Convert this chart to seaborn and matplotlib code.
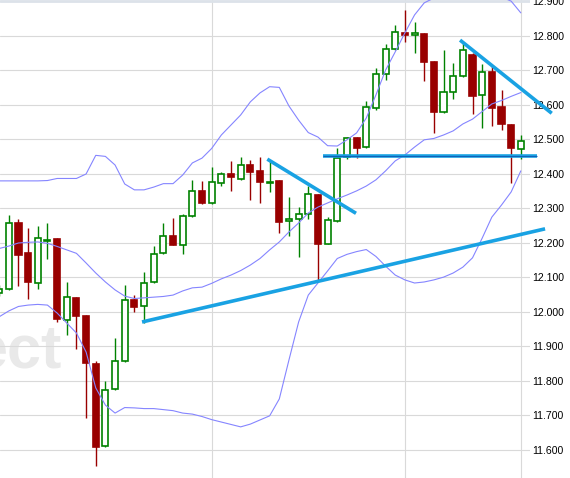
import numpy as np
import pandas as pd
import matplotlib
matplotlib.use("Agg")
import matplotlib.pyplot as plt
import seaborn as sns
from matplotlib.ticker import FormatStrFormatter

# ---------------- data ----------------
day = list(range(-1, 54))
open_ = [12.055, 12.067, 12.258, 12.171, 12.084, 12.207, 12.212, 11.977, 12.041, 11.988,
         11.849, 11.612, 11.777, 11.858, 12.035, 12.017, 12.087, 12.171, 12.220, 12.194,
         12.278, 12.351, 12.316, 12.374, 12.400, 12.385, 12.426, 12.409, 12.375, 12.380,
         12.264, 12.270, 12.284, 12.339, 12.197, 12.265, 12.449, 12.504, 12.478, 12.591,
         12.690, 12.762, 12.809, 12.804, 12.806, 12.725, 12.580, 12.638, 12.684, 12.745,
         12.629, 12.696, 12.594, 12.542, 12.472]
high = [12.078, 12.281, 12.270, 12.243, 12.249, 12.258, 12.214, 12.087, 12.043, 11.991,
        11.858, 11.800, 11.925, 12.078, 12.049, 12.116, 12.191, 12.258, 12.272, 12.284,
        12.383, 12.380, 12.420, 12.406, 12.438, 12.449, 12.441, 12.449, 12.438, 12.383,
        12.333, 12.304, 12.365, 12.342, 12.275, 12.475, 12.507, 12.507, 12.612, 12.707,
        12.777, 12.832, 12.875, 12.841, 12.809, 12.728, 12.759, 12.722, 12.780, 12.751,
        12.719, 12.713, 12.643, 12.545, 12.513]
low = [12.046, 12.064, 12.075, 12.038, 12.067, 12.154, 11.971, 11.933, 11.893, 11.693,
       11.554, 11.609, 11.774, 11.855, 12.000, 11.968, 12.084, 12.168, 12.193, 12.168,
       12.275, 12.314, 12.314, 12.365, 12.351, 12.383, 12.325, 12.316, 12.348, 12.229,
       12.220, 12.159, 12.270, 12.090, 12.196, 12.261, 12.443, 12.446, 12.475, 12.585,
       12.672, 12.759, 12.783, 12.751, 12.670, 12.519, 12.577, 12.617, 12.681, 12.574,
       12.533, 12.539, 12.527, 12.374, 12.443]
close = [12.067, 12.258, 12.165, 12.087, 12.214, 12.210, 11.980, 12.043, 11.988, 11.852,
         11.609, 11.774, 11.858, 12.035, 12.014, 12.084, 12.168, 12.220, 12.194, 12.278,
         12.351, 12.316, 12.377, 12.400, 12.391, 12.426, 12.406, 12.377, 12.378, 12.261,
         12.270, 12.284, 12.342, 12.197, 12.267, 12.447, 12.504, 12.475, 12.594, 12.690,
         12.762, 12.812, 12.804, 12.809, 12.725, 12.580, 12.638, 12.684, 12.759, 12.626,
         12.696, 12.591, 12.545, 12.475, 12.496]

bb_upper = [12.380, 12.380, 12.380, 12.380, 12.380, 12.381, 12.387, 12.387, 12.387, 12.400,
            12.454, 12.451, 12.426, 12.371, 12.354, 12.354, 12.362, 12.372, 12.372, 12.397,
            12.432, 12.446, 12.474, 12.513, 12.542, 12.571, 12.609, 12.635, 12.653, 12.651,
            12.597, 12.556, 12.520, 12.507, 12.482, 12.481, 12.499, 12.519, 12.562, 12.629,
            12.701, 12.754, 12.809, 12.861, 12.896, 12.910, 12.922, 12.927, 12.930, 12.930,
            12.927, 12.922, 12.913, 12.901, 12.867]
bb_mid = [12.184, 12.191, 12.200, 12.202, 12.203, 12.199, 12.190, 12.180, 12.170, 12.142,
          12.113, 12.087, 12.064, 12.046, 12.039, 12.041, 12.043, 12.045, 12.049, 12.061,
          12.070, 12.072, 12.083, 12.096, 12.107, 12.120, 12.136, 12.155, 12.180, 12.203,
          12.232, 12.258, 12.287, 12.304, 12.316, 12.328, 12.339, 12.351, 12.365, 12.383,
          12.409, 12.438, 12.455, 12.478, 12.499, 12.503, 12.513, 12.525, 12.545, 12.559,
          12.581, 12.603, 12.613, 12.625, 12.636]
bb_lower = [11.986, 12.003, 12.016, 12.020, 12.022, 12.020, 11.997, 11.968, 11.939, 11.884,
            11.780, 11.730, 11.707, 11.723, 11.722, 11.720, 11.720, 11.717, 11.714, 11.707,
            11.704, 11.697, 11.688, 11.681, 11.674, 11.667, 11.675, 11.687, 11.699, 11.748,
            11.861, 11.971, 12.049, 12.084, 12.119, 12.155, 12.167, 12.175, 12.181, 12.161,
            12.133, 12.107, 12.093, 12.084, 12.087, 12.093, 12.101, 12.113, 12.130, 12.157,
            12.214, 12.275, 12.310, 12.348, 12.409]

price_ticks = [11.6, 11.7, 11.8, 11.9, 12.0, 12.1, 12.2, 12.3, 12.4, 12.5, 12.6, 12.7, 12.8, 12.9]
month_marks = [21, 41, 53]

# hand-drawn trend lines (day index, price)
support_day = [13.79, 55.51]
support_price = [11.971, 12.241]
flag_day = [26.76, 35.94]
flag_price = [12.443, 12.286]
neck_day = [32.56, 54.68]
neck_price = [12.451, 12.451]
resist_day = [46.71, 56.2]
resist_price = [12.788, 12.576]

# ---------------- style ----------------
sns.set_style("white")
plt.rcParams['font.family'] = ['Liberation Sans', 'DejaVu Sans']

W, H = 570, 478
fig = plt.figure(figsize=(W / 100, H / 100), dpi=100)
ax = fig.add_axes([0, 0, 530 / W, 1])

df = pd.DataFrame({"day": day, "open": open_, "high": high, "low": low, "close": close,
                   "upper": bb_upper, "mid": bb_mid, "lower": bb_lower})

GREEN = "#008200"
RED = "#990000"
BAND = "#8585ff"
TREND = "#19a2e3"

up = df["close"] >= df["open"]
body_lo = np.minimum(df["open"], df["close"])
body_h = np.maximum(np.abs(df["close"] - df["open"]), 0.0006)

# wicks
ax.vlines(df["day"], df["low"], df["high"],
          colors=np.where(up, GREEN, RED), linewidth=1.0, zorder=2)
# bodies
ax.bar(df["day"][up], body_h[up], bottom=body_lo[up], width=0.63,
       facecolor="white", edgecolor=GREEN, linewidth=1.2, zorder=3)
ax.bar(df["day"][~up], body_h[~up], bottom=body_lo[~up], width=0.63,
       facecolor=RED, edgecolor=RED, linewidth=1.2, zorder=3)

# Bollinger bands
for col in ["upper", "mid", "lower"]:
    sns.lineplot(data=df, x="day", y=col, color=BAND, linewidth=0.8, ax=ax,
                 zorder=4, legend=False)

# trend lines
ax.plot(support_day, support_price, color=TREND, lw=2.6, solid_capstyle="butt",
        clip_on=False, zorder=6)
ax.plot(flag_day, flag_price, color=TREND, lw=2.6, solid_capstyle="butt",
        clip_on=False, zorder=6)
ax.plot(neck_day, neck_price, color=TREND, lw=2.6, solid_capstyle="butt",
        clip_on=False, zorder=6)
ax.plot(neck_day, neck_price, color="#1060b8", lw=0.8, solid_capstyle="butt",
        clip_on=False, zorder=6.5)
ax.plot(resist_day, resist_price, color=TREND, lw=2.6, solid_capstyle="butt",
        clip_on=False, zorder=6)

# axes setup
ax.set_xlim(-0.911, 53.95)
ax.set_ylim(11.5188, 12.9043)
ax.set_xlabel("")
ax.set_ylabel("")
ax.set_yticks(price_ticks)
ax.set_xticks(month_marks)
ax.set_xticklabels([])
ax.yaxis.tick_right()
ax.yaxis.set_major_formatter(FormatStrFormatter("%.3f"))
ax.tick_params(axis="y", length=0, pad=1.5, labelsize=7.6, labelcolor="#000000")
ax.tick_params(axis="x", length=0)
ax.grid(True, axis="both", color="#d9d9d9", linewidth=0.8, zorder=0)
ax.set_axisbelow(True)
for s in ax.spines.values():
    s.set_visible(False)
ax.axhline(12.9, color="#dce2e9", lw=2.0, zorder=0.8)

# watermark
ax.text(62 / W, 1 - 368 / H, "ect", transform=fig.transFigure, ha="right",
        va="baseline", fontsize=44, fontweight="bold", color="#e9e9e9",
        family="Liberation Sans", zorder=0.5)

fig.savefig("out.png", dpi=100)
